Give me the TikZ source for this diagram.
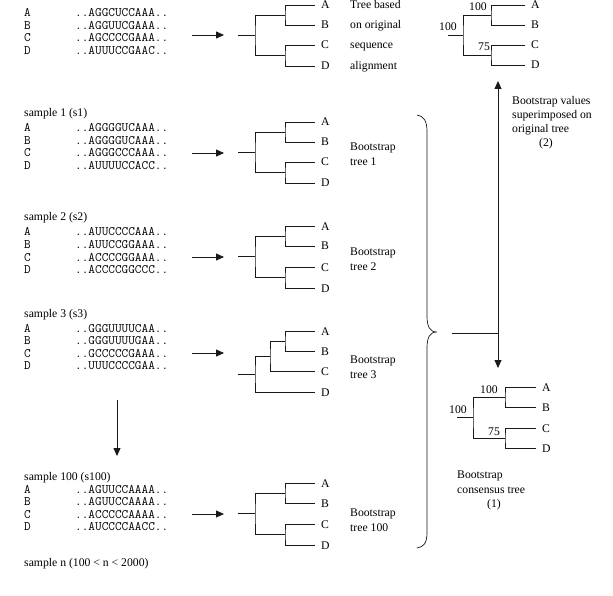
\documentclass[tikz,border=0pt]{standalone}
\usepackage{fontspec}
\setmainfont{Liberation Serif}
\usetikzlibrary{arrows.meta}

% one row block of four aligned sequences; #2 is the y of row C
\newcommand{\seqblock}[6]{%
  \foreach \L/\S/\k in {A/#3/-2,B/#4/-1,C/#5/0,D/#6/1} {
    \node[seq] (#1-\L) at (24,#2+12.5*\k+4) {\L};
    \node[seq] (#1-\L-seq) at (75,#2+12.5*\k+4) {\S};
  }%
}

% balanced four-leaf tree ((A,B),(C,D))
% #1 name, #2 stub x, #3 root x, #4 clade x, #5 tip x, #6-#9 leaf y
\newcommand{\baltree}[9]{%
  \pgfmathsetmacro{\yab}{(#6+#7)/2}%
  \pgfmathsetmacro{\ycd}{(#8+#9)/2}%
  \pgfmathsetmacro{\yr}{(\yab+\ycd)/2}%
  \coordinate (#1-tA) at (#5,#6);
  \coordinate (#1-tB) at (#5,#7);
  \coordinate (#1-tC) at (#5,#8);
  \coordinate (#1-tD) at (#5,#9);
  \coordinate (#1-ab) at (#4,\yab);
  \coordinate (#1-cd) at (#4,\ycd);
  \coordinate (#1-r) at (#3,\yr);
  \coordinate (#1-s) at (#2,\yr);
  \draw[branch] (#1-tA) -| (#1-ab) |- (#1-tB);
  \draw[branch] (#1-tC) -| (#1-cd) |- (#1-tD);
  \draw[branch] (#1-ab) -| (#1-r) |- (#1-cd);
  \draw[branch] (#1-s) -- (#1-r);
  \foreach \L/\y in {A/#6,B/#7,C/#8,D/#9}
    \node[txt] (#1-l\L) at (#5+6,\y+4) {\L};
}

\begin{document}
\begin{tikzpicture}[x=1pt,y=-1pt,
  txt/.style={font=\fontsize{11.7}{13}\selectfont, inner sep=0pt, anchor=base west},
  ctxt/.style={txt, anchor=base},
  seq/.style={font=\fontsize{12.9}{14}\selectfont\ttfamily, inner sep=0pt, anchor=base west},
  branch/.style={line width=0.8pt, draw=black!90},
  flow/.style={line width=0.8pt, draw=black!90, -{Triangle[length=8pt,width=7pt]}},
]
\useasboundingbox[fill=white] (0,0) rectangle (613,596);

% ---------- original alignment and its tree ----------
\seqblock{s0}{38}{..AGGCUCCAAA..}{..AGGUUCGAAA..}{..AGCCCCGAAA..}{..AUUUCCGAAC..}
\baltree{t0}{238}{255}{285}{315}{5}{25}{45}{66}
\coordinate (s0-out) at (192,35);
\coordinate (t0-in) at (224,35);
\draw[flow] (s0-out) -- (t0-in);
\node[txt] (t0-n1) at (350,5+4) {Tree based};
\node[txt] (t0-n2) at (350,25+4) {on original};
\node[txt] (t0-n3) at (350,45+4) {sequence};
\node[txt] (t0-n4) at (350,66+4) {alignment};

% ---------- bootstrap sample 1 ----------
\node[txt] (s1-title) at (24,113+4) {sample 1 (s1)};
\seqblock{s1}{153}{..AGGGGUCAAA..}{..AGGGGUCAAA..}{..AGGGCCCAAA..}{..AUUUUCCACC..}
\baltree{t1}{238}{255}{285}{315}{122}{142}{162}{183}
\coordinate (s1-out) at (192,153);
\coordinate (t1-in) at (224,153);
\draw[flow] (s1-out) -- (t1-in);
\node[txt] (t1-n1) at (350,147+4) {Bootstrap};
\node[txt] (t1-n2) at (350,162+4) {tree 1};

% ---------- bootstrap sample 2 ----------
\node[txt] (s2-title) at (24,217+4) {sample 2 (s2)};
\seqblock{s2}{257}{..AUUCCCCAAA..}{..AUUCCGGAAA..}{..ACCCCGGAAA..}{..ACCCCGGCCC..}
\baltree{t2}{238}{255}{285}{315}{226}{246}{267}{288}
\coordinate (s2-out) at (192,257);
\coordinate (t2-in) at (224,257);
\draw[flow] (s2-out) -- (t2-in);
\node[txt] (t2-n1) at (350,251+4) {Bootstrap};
\node[txt] (t2-n2) at (350,266+4) {tree 2};

% ---------- bootstrap sample 3 (unbalanced tree) ----------
\node[txt] (s3-title) at (24,313+4) {sample 3 (s3)};
\seqblock{s3}{353}{..GGGUUUUCAA..}{..GGGUUUUGAA..}{..GCCCCCGAAA..}{..UUUCCCCGAA..}
\coordinate (t3-tA) at (315,331);
\coordinate (t3-tB) at (315,351);
\coordinate (t3-tC) at (315,371);
\coordinate (t3-tD) at (315,392);
\coordinate (t3-ab) at (285,341);
\coordinate (t3-abc) at (270,356);
\coordinate (t3-r) at (255,374);
\coordinate (t3-s) at (238,374);
\draw[branch] (t3-tA) -| (t3-ab) |- (t3-tB);
\draw[branch] (t3-ab) -| (t3-abc) |- (t3-tC);
\draw[branch] (t3-abc) -| (t3-r) |- (t3-tD);
\draw[branch] (t3-s) -- (t3-r);
\foreach \L/\y in {A/331,B/351,C/371,D/392}
  \node[txt] (t3-l\L) at (321,\y+4) {\L};
\coordinate (s3-out) at (192,353);
\coordinate (t3-in) at (224,353);
\draw[flow] (s3-out) -- (t3-in);
\node[txt] (t3-n1) at (350,359+4) {Bootstrap};
\node[txt] (t3-n2) at (350,374+4) {tree 3};

% continuation down to the last sample
\coordinate (more-top) at (117,400);
\coordinate (more-bot) at (117,456);
\draw[flow] (more-top) -- (more-bot);

% ---------- bootstrap sample 100 ----------
\node[txt] (s100-title) at (24,476+4) {sample 100 (s100)};
\seqblock{s100}{514}{..AGUUCCAAAA..}{..AGUUCCAAAA..}{..ACCCCCAAAA..}{..AUCCCCAACC..}
\baltree{t100}{238}{255}{285}{315}{483}{503}{524}{545}
\coordinate (s100-out) at (192,514);
\coordinate (t100-in) at (224,514);
\draw[flow] (s100-out) -- (t100-in);
\node[txt] (t100-n1) at (350,512+4) {Bootstrap};
\node[txt] (t100-n2) at (350,527+4) {tree 100};

\node[txt] (sn) at (24,562+4) {sample n (100 < n < 2000)};

% ---------- brace gathering all bootstrap trees ----------
\coordinate (br-top) at (417,115);
\coordinate (br-tip) at (437,332);
\coordinate (br-bot) at (417,548);
\draw[line width=0.7pt, draw=black!90]
  (br-top) .. controls (424,116) and (427,121) .. (427,132)
  -- (427,316) .. controls (427,327) and (430,332) .. (br-tip)
  .. controls (430,332) and (427,337) .. (427,348)
  -- (427,532) .. controls (427,543) and (424,547) .. (br-bot);

\coordinate (join-in) at (452,333);
\coordinate (join) at (498,333);
\coordinate (up-end) at (498,81);
\coordinate (down-end) at (498,368);
\draw[branch] (join-in) -- (join);
\draw[flow] (join) -- (up-end);
\draw[flow] (join) -- (down-end);

% ---------- original tree with bootstrap values ----------
\baltree{tv}{448}{463}{491}{525}{5}{25}{45}{65}
\node[ctxt] (tv-v1) at (478,7+4) {100};
\node[ctxt] (tv-v2) at (484,47+4) {75};
\node[ctxt] (tv-v0) at (448,27+4) {100};

\node[txt] (tv-n1) at (512,101+4) {Bootstrap values};
\node[txt] (tv-n2) at (512,115+4) {superimposed on};
\node[txt] (tv-n3) at (512,129+4) {original tree};
\node[ctxt] (tv-n4) at (546,143+4) {(2)};

% ---------- bootstrap consensus tree ----------
\baltree{tc}{457}{473}{505}{536}{387}{407}{428}{448}
\node[ctxt] (tc-v1) at (489,389+4) {100};
\node[ctxt] (tc-v2) at (494,431+4) {75};
\node[ctxt] (tc-v0) at (458,409+4) {100};

\node[txt] (tc-n1) at (457,474+4) {Bootstrap};
\node[txt] (tc-n2) at (457,489+4) {consensus tree};
\node[ctxt] (tc-n3) at (494,503+4) {(1)};
\end{tikzpicture}
\end{document}
